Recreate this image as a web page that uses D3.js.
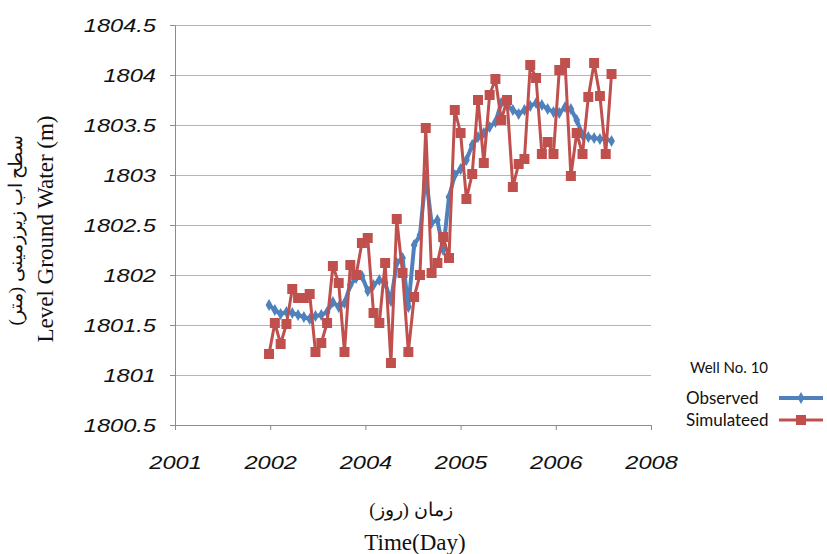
<!DOCTYPE html>
<html><head><meta charset="utf-8">
<script src="https://cdn.jsdelivr.net/npm/d3@7"></script>
<style>body{margin:0;background:#fff}svg{display:block}</style>
</head><body><svg id="c" width="827" height="554"></svg>
<script>
// ---- data ----
const yTicks = [1800.5, 1801, 1801.5, 1802, 1802.5, 1803, 1803.5, 1804, 1804.5];
const xTickLabels = ["2001", "2002", "2004", "2005", "2006", "2008"];
const observed = [
  1801.70, 1801.65, 1801.61, 1801.63, 1801.62, 1801.60, 1801.58, 1801.56, 1801.59, 1801.60,
  1801.63, 1801.73, 1801.68, 1801.72, 1801.90, 1801.97, 1801.99, 1801.84, 1801.90, 1801.95,
  1801.92, 1801.74, 1802.12, 1802.17, 1801.68, 1802.30, 1802.40, 1803.00, 1802.52, 1802.55,
  1802.25, 1802.78, 1803.00, 1803.06, 1803.15, 1803.30, 1803.38, 1803.42, 1803.48, 1803.53,
  1803.72, 1803.70, 1803.65, 1803.61, 1803.65, 1803.69, 1803.72, 1803.70, 1803.66, 1803.63,
  1803.62, 1803.68, 1803.66, 1803.55, 1803.40, 1803.38, 1803.37, 1803.36, 1803.36, 1803.34
];
const simulated = [
  1801.21, 1801.52, 1801.31, 1801.51, 1801.86, 1801.77, 1801.77, 1801.81, 1801.23, 1801.32,
  1801.52, 1802.09, 1801.92, 1801.23, 1802.10, 1802.00, 1802.32, 1802.37, 1801.62, 1801.52,
  1802.12, 1801.12, 1802.56, 1802.02, 1801.23, 1801.78, 1802.00, 1803.47, 1802.02, 1802.12,
  1802.38, 1802.17, 1803.65, 1803.42, 1802.76, 1803.01, 1803.75, 1803.12, 1803.80, 1803.96,
  1803.55, 1803.75, 1802.88, 1803.11, 1803.16, 1804.10, 1803.97, 1803.21, 1803.33, 1803.21,
  1804.05, 1804.12, 1802.99, 1803.42, 1803.21, 1803.78, 1804.12, 1803.79, 1803.21, 1804.01
];
const seriesNames = ["Observed", "Simulateed"];
const seriesColors = ["#4F81BD", "#C0504D"];
const legendTitle = "Well No. 10";
const yTitleFa = "سطح اب زیرزمینی (متر)";
const yTitleEn = "Level Ground Water (m)";
const xTitleFa = "زمان (روز)";
const xTitleEn = "Time(Day)";

// ---- layout ----
const svg = d3.select("#c");
const L = 175, R = 651, T = 25, B = 425;
const xDomain = [-16.2, 65.8];
const x = d3.scaleLinear().domain(xDomain).range([L, R]);
const y = d3.scaleLinear().domain([1800.5, 1804.5]).range([B, T]);
const xTickPos = xTickLabels.map((d, k) => xDomain[0] + k * (xDomain[1] - xDomain[0]) / (xTickLabels.length - 1));
const stretch = 1.35;

// gridlines
svg.append("g").selectAll("line").data(yTicks).join("line")
  .attr("x1", L).attr("x2", R).attr("y1", d => y(d)).attr("y2", d => y(d))
  .attr("stroke", "#b5b5b5").attr("stroke-width", 1).attr("shape-rendering", "crispEdges");

// y axis
const yAxis = svg.append("g").attr("transform", `translate(${L},0)`)
  .call(d3.axisLeft(y).tickValues(yTicks).tickSizeInner(5).tickSizeOuter(0).tickFormat(d3.format("")));
yAxis.select(".domain").attr("stroke", "#8c8c8c");
yAxis.selectAll(".tick line").attr("stroke", "#8c8c8c");
yAxis.selectAll(".tick text")
  .attr("x", null).attr("dy", null)
  .attr("transform", `translate(-19,6) scale(${stretch},1)`)
  .attr("font-family", "Liberation Sans, Arial, sans-serif").attr("font-style", "italic")
  .attr("font-size", 17.5).attr("fill", "#111").attr("text-anchor", "end");

// x axis
const xAxis = svg.append("g").attr("transform", `translate(0,${B})`)
  .call(d3.axisBottom(x).tickValues(xTickPos).tickSizeInner(5).tickSizeOuter(0)
    .tickFormat((d, i) => xTickLabels[i]));
xAxis.select(".domain").attr("stroke", "#8c8c8c");
xAxis.selectAll(".tick line").attr("stroke", "#8c8c8c");
xAxis.selectAll(".tick text")
  .attr("y", null).attr("dy", null)
  .attr("transform", `translate(0,44) scale(${stretch},1)`)
  .attr("font-family", "Liberation Sans, Arial, sans-serif").attr("font-style", "italic")
  .attr("font-size", 17.5).attr("fill", "#111").attr("text-anchor", "middle");

// series
const allSeries = [observed, simulated];
const line = d3.line().x((d, i) => x(i)).y(d => y(d));
const widths = [4, 3];
allSeries.forEach((s, k) => {
  svg.append("path").datum(s).attr("d", line).attr("fill", "none")
    .attr("stroke", seriesColors[k]).attr("stroke-width", widths[k]).attr("stroke-linejoin", "round");
  const sym = k === 0 ? d3.symbol(d3.symbolDiamond, 40) : d3.symbol(d3.symbolSquare, 100);
  svg.append("g").selectAll("path").data(s).join("path")
    .attr("transform", (d, i) => `translate(${x(i)},${y(d)})`)
    .attr("d", sym).attr("fill", seriesColors[k]);
});

// axis titles
const serif = "Times New Roman, Liberation Serif, DejaVu Serif, serif";
svg.append("text").attr("transform", "translate(22,230) rotate(-90)")
  .attr("text-anchor", "middle").attr("font-family", serif).attr("font-size", 19).attr("fill", "#111")
  .attr("direction", "rtl").text(yTitleFa);
svg.append("text").attr("transform", "translate(53,229) rotate(-90)")
  .attr("text-anchor", "middle").attr("font-family", serif).attr("font-size", 23).attr("fill", "#111")
  .text(yTitleEn);
svg.append("text").attr("x", 411).attr("y", 516)
  .attr("text-anchor", "middle").attr("font-family", serif).attr("font-size", 19).attr("fill", "#111")
  .attr("direction", "rtl").text(xTitleFa);
svg.append("text").attr("x", 415).attr("y", 550)
  .attr("text-anchor", "middle").attr("font-family", serif).attr("font-size", 23).attr("fill", "#111")
  .text(xTitleEn);

// legend
const lf = "Lato, Carlito, Open Sans, sans-serif";
svg.append("text").attr("x", 690).attr("y", 373).attr("font-family", lf).attr("font-size", 15)
  .attr("fill", "#111").text(legendTitle);
seriesNames.forEach((n, k) => {
  const ly = 398 + k * 22;
  svg.append("text").attr("x", 686).attr("y", ly + 6).attr("font-family", lf).attr("font-size", 17)
    .attr("fill", "#111").text(n);
  svg.append("line").attr("x1", 779).attr("x2", 823).attr("y1", ly).attr("y2", ly)
    .attr("stroke", seriesColors[k]).attr("stroke-width", widths[k]);
  const sym = k === 0 ? d3.symbol(d3.symbolDiamond, 40) : d3.symbol(d3.symbolSquare, 100);
  svg.append("path").attr("transform", `translate(801,${ly})`).attr("d", sym).attr("fill", seriesColors[k]);
});
</script>
</body></html>
